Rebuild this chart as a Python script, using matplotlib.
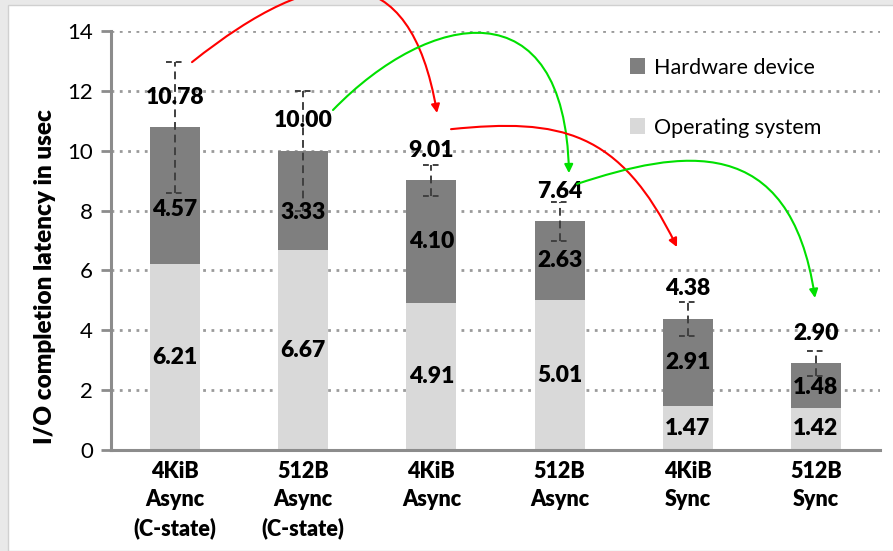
import matplotlib
matplotlib.use("Agg")
import matplotlib.pyplot as plt
from matplotlib.patches import Rectangle, FancyArrowPatch
from matplotlib.path import Path
import numpy as np

plt.rcParams["font.family"] = ["Lato", "DejaVu Sans"]

# Data
categories = ["4KiB\nAsync\n(C-state)", "512B\nAsync\n(C-state)", "4KiB\nAsync",
              "512B\nAsync", "4KiB\nSync", "512B\nSync"]
os_latency = [6.21, 6.67, 4.91, 5.01, 1.47, 1.42]
hw_latency = [4.57, 3.33, 4.10, 2.63, 2.91, 1.48]
totals = [10.78, 10.00, 9.01, 7.64, 4.38, 2.90]
total_err = [2.2, 2.0, 0.52, 0.66, 0.58, 0.42]
yticks = [0, 2, 4, 6, 8, 10, 12, 14]

HW_COLOR = "#7f7f7f"
OS_COLOR = "#d9d9d9"
AXIS_GRAY = "#8c8c8c"
BOLD = "heavy"

W, H = 893, 551
fig = plt.figure(figsize=(W / 100, H / 100), dpi=100)
fig.patch.set_facecolor("#e9e9e9")
fig.add_artist(Rectangle((8 / W, 0), 1, 1 - 5 / H, transform=fig.transFigure,
                         facecolor="white", edgecolor="#d0d0d0", lw=1, zorder=0))

ax = fig.add_axes([111 / W, 1 - 450 / H, 769 / W, 419 / H])
ax.set_facecolor("none")

x = np.arange(len(categories))
bw = 0.39
ax.bar(x, os_latency, bw, color=OS_COLOR, label="Operating system", zorder=2)
ax.bar(x, hw_latency, bw, bottom=os_latency, color=HW_COLOR,
       label="Hardware device", zorder=2)

# Dashed error bars with dashed caps
tot = np.array(totals)
err = np.array(total_err)
ax.vlines(x, tot - err, tot + err, colors="#404040", linestyles=(0, (4, 2.5)),
          lw=1.4, zorder=4)
cap = 0.068
for yy in (tot - err, tot + err):
    ax.hlines(yy, x - cap, x + cap, colors="#404040", linestyles=(0, (3, 2)),
              lw=1.4, zorder=4)

# Value labels
lbl_font = dict(fontsize=16.5, fontweight=BOLD, color="black", ha="center",
                va="center", zorder=5)
hw_shift = [-0.45, -0.4, 0, 0, 0, -0.06]
for i in range(len(categories)):
    ax.text(x[i], os_latency[i] / 2, f"{os_latency[i]:.2f}", **lbl_font)
    ax.text(x[i], os_latency[i] + hw_latency[i] / 2 + hw_shift[i],
            f"{hw_latency[i]:.2f}", **lbl_font)
    ax.text(x[i], totals[i] + 1.0, f"{totals[i]:.2f}", **lbl_font)

# Axes styling
ax.set_xlim(-0.5, 5.5)
ax.set_ylim(0, 14)
ax.set_yticks(yticks)
ax.set_yticklabels([str(t) for t in yticks], fontsize=16)
ax.set_xticks(x)
ax.set_xticklabels(categories, fontsize=15.5, fontweight=BOLD, linespacing=1.4)
ax.tick_params(axis="x", length=0, pad=8)
ax.tick_params(axis="y", length=7, width=2, color=AXIS_GRAY, pad=6)
for s in ("top", "right"):
    ax.spines[s].set_visible(False)
for s in ("left", "bottom"):
    ax.spines[s].set_color(AXIS_GRAY)
    ax.spines[s].set_linewidth(2.2)
ax.yaxis.grid(True, linestyle=(0, (1, 2)), color="#9a9a9a", lw=2, zorder=1)
ax.set_axisbelow(True)
ax.set_ylabel("I/O completion latency in usec", fontsize=17.5, fontweight=BOLD)
ax.yaxis.set_label_coords(-0.072, 0.415)

handles, labels = ax.get_legend_handles_labels()
leg = ax.legend(handles[::-1], labels[::-1], loc="upper left",
                bbox_to_anchor=(0.661, 0.962), frameon=False, fontsize=15.5,
                handlelength=0.7, handleheight=0.8, handletextpad=0.4,
                labelspacing=1.85, borderpad=0)

# Curved arrows linking matching block sizes
def curve(pts, color):
    path = Path(pts, [Path.MOVETO, Path.CURVE4, Path.CURVE4, Path.CURVE4])
    arr = FancyArrowPatch(path=path, arrowstyle="-|>,head_length=5,head_width=2.5",
                          color=color, lw=1.5, transform=ax.transData,
                          clip_on=False, zorder=6)
    ax.add_patch(arr)

curve([(0.132, 12.96), (1.131, 16.37), (1.833, 16.54), (2.044, 11.26)], "#ff0000")
curve([(1.232, 11.36), (1.989, 14.70), (3.042, 15.54), (3.073, 9.25)], "#00e000")
curve([(2.153, 10.72), (3.003, 11.09), (3.471, 10.69), (3.916, 6.78)], "#ff0000")
curve([(3.136, 8.89), (3.939, 10.02), (4.798, 10.69), (4.993, 5.08)], "#00e000")

fig.savefig("out.png", dpi=100, facecolor=fig.get_facecolor())
